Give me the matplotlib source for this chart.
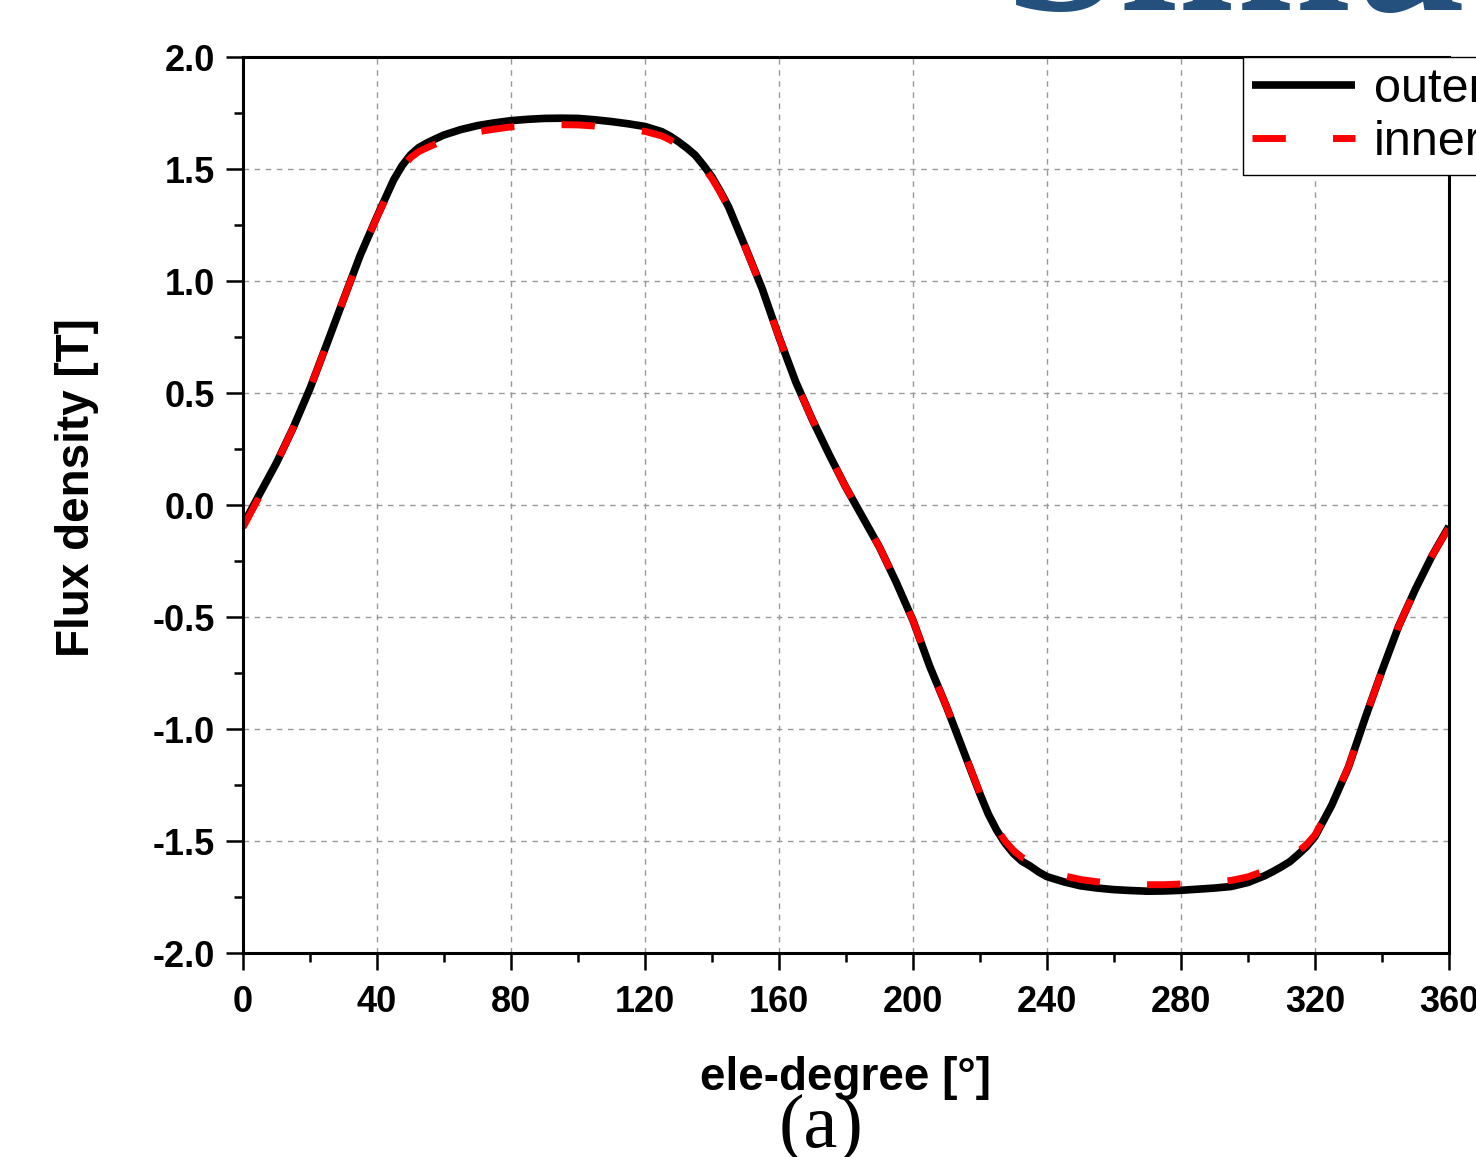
import matplotlib.pyplot as plt
from matplotlib.ticker import MultipleLocator, FormatStrFormatter

# electrical angle [deg] and flux density [T]
deg = [0, 5, 10, 15, 20, 25, 30, 35, 40, 42.5, 45, 47.5, 50, 52.5, 55, 57.5, 60,
       65, 70, 75, 80, 85, 90, 95, 100, 105, 110, 115, 120, 125, 127.5, 130,
       132.5, 135, 137.5, 140, 142.5, 145, 147.5, 150, 155, 160, 165, 170, 175,
       180, 185, 190, 195, 200, 205, 210, 215, 220, 222.5, 225, 227.5, 230,
       232.5, 235, 237.5, 240, 245, 250, 255, 260, 265, 270, 275, 280, 285, 290,
       295, 300, 305, 307.5, 310, 312.5, 315, 317.5, 320, 322.5, 325, 330, 335,
       340, 345, 350, 355, 360]

outer = [-0.09, 0.05, 0.188, 0.345, 0.52, 0.717, 0.917, 1.115, 1.287, 1.37,
         1.452, 1.515, 1.563, 1.596, 1.617, 1.635, 1.652, 1.676, 1.694, 1.706,
         1.716, 1.722, 1.726, 1.727, 1.726, 1.72, 1.712, 1.702, 1.69, 1.667,
         1.647, 1.622, 1.594, 1.562, 1.516, 1.465, 1.40, 1.33, 1.24, 1.15, 0.965,
         0.75, 0.55, 0.38, 0.225, 0.078, -0.055, -0.188, -0.345, -0.515, -0.72,
         -0.90, -1.095, -1.29, -1.38, -1.452, -1.51, -1.556, -1.59, -1.612,
         -1.638, -1.659, -1.682, -1.70, -1.71, -1.717, -1.721, -1.724, -1.723,
         -1.72, -1.715, -1.71, -1.703, -1.685, -1.655, -1.636, -1.615, -1.592,
         -1.56, -1.525, -1.48, -1.41, -1.34, -1.17, -0.95, -0.74, -0.54, -0.375,
         -0.225, -0.095]

inner = [-0.10, 0.04, 0.185, 0.345, 0.52, 0.717, 0.917, 1.115, 1.285, 1.365,
         1.445, 1.505, 1.55, 1.578, 1.596, 1.612, 1.627, 1.65, 1.666, 1.678,
         1.688, 1.694, 1.697, 1.698, 1.697, 1.692, 1.685, 1.677, 1.668, 1.648,
         1.63, 1.607, 1.58, 1.55, 1.507, 1.458, 1.395, 1.326, 1.237, 1.148, 0.963,
         0.75, 0.55, 0.38, 0.225, 0.078, -0.055, -0.188, -0.345, -0.515, -0.72,
         -0.90, -1.093, -1.287, -1.375, -1.445, -1.50, -1.542, -1.573, -1.592,
         -1.615, -1.633, -1.655, -1.672, -1.682, -1.689, -1.693, -1.695, -1.695,
         -1.692, -1.688, -1.683, -1.676, -1.66, -1.633, -1.616, -1.597, -1.576,
         -1.547, -1.515, -1.473, -1.405, -1.337, -1.168, -0.95, -0.74, -0.54,
         -0.375, -0.225, -0.10]

labels = ["outer", "inner"]

plt.rcParams['font.family'] = ['Liberation Sans', 'DejaVu Sans']

fig = plt.figure(figsize=(14.76, 11.57), dpi=100)
ax = fig.add_axes([0.1646, 0.1763, 0.8171, 0.7744])

ax.plot(deg, outer, color='black', lw=5.5, label=labels[0], solid_capstyle='butt')
ax.plot(deg, inner, color='#ff0000', lw=5, linestyle=(0, (4.8, 6.8)),
        label=labels[1], dash_capstyle='butt')

ax.set_xlim(0, 360)
ax.set_ylim(-2, 2)
ax.xaxis.set_major_locator(MultipleLocator(40))
ax.xaxis.set_minor_locator(MultipleLocator(20))
ax.yaxis.set_major_locator(MultipleLocator(0.5))
ax.yaxis.set_minor_locator(MultipleLocator(0.25))
ax.yaxis.set_major_formatter(FormatStrFormatter('%.1f'))

ax.grid(True, which='major', color='#999999', linestyle=(0, (4, 4)), lw=1)
ax.set_axisbelow(True)

ax.tick_params(which='major', direction='out', length=12, width=1.8,
               labelsize=26, pad=8)
ax.tick_params(axis='x', which='major', pad=11)
ax.tick_params(which='minor', direction='out', length=6.5, width=1.8)
for lab in ax.get_xticklabels() + ax.get_yticklabels():
    lab.set_fontweight('bold')
for s in ax.spines.values():
    s.set_linewidth(2.2)

ax.set_xlabel("ele-degree [°]", fontsize=33, fontweight='bold', labelpad=26)
ax.set_ylabel("Flux density [T]", fontsize=33, fontweight='bold')
ax.yaxis.set_label_coords(-0.119, 0.52)

leg = ax.legend(loc='upper left', bbox_to_anchor=(0.829, 1.0), borderaxespad=0,
                fontsize=35, handlelength=2.1, handletextpad=0.4,
                labelspacing=0.17, borderpad=0.2,
                fancybox=False, framealpha=1, edgecolor='black')
leg.get_frame().set_linewidth(1)

fig.text(0.556, 0.025, "(a)", fontsize=55, family='Liberation Serif',
         ha='center', va='center')
# cut-off watermark at the top
fig.text(0.681, 0.991, "Simu", fontsize=150, fontweight='bold',
         family='Liberation Serif', color='#23507d', va='baseline', ha='left')

fig.savefig("out.png", dpi=100)
